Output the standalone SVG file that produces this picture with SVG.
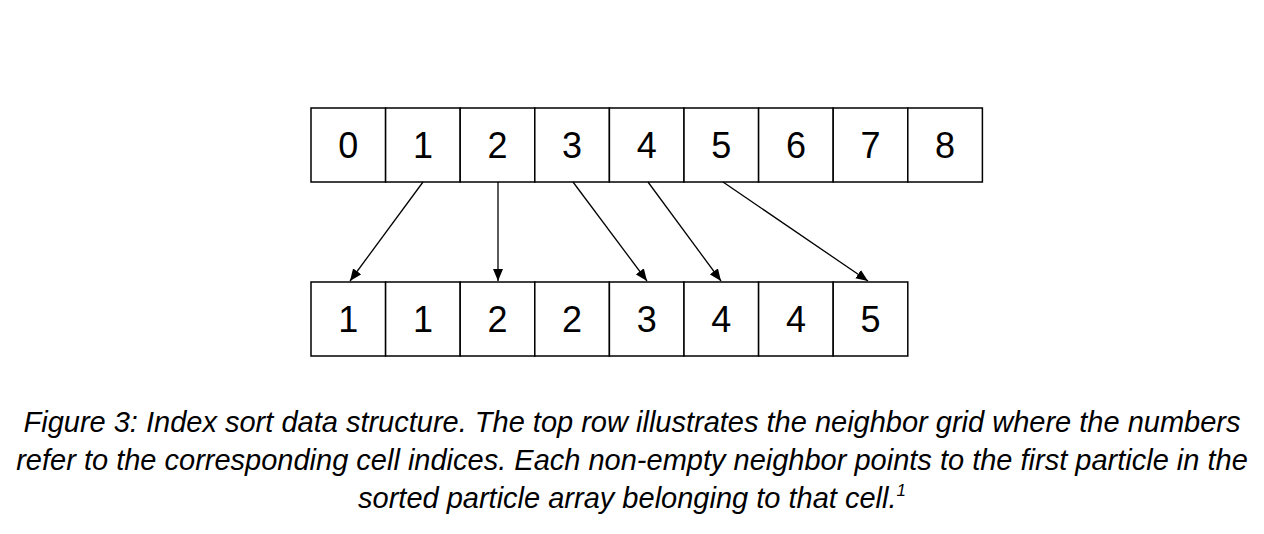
<svg xmlns="http://www.w3.org/2000/svg" width="1264" height="534" viewBox="0 0 1264 534">
<style>
.c{fill:#fff;stroke:#000;stroke-width:1.5}
.d{font-family:"Liberation Sans",Arial,sans-serif;font-size:36px;text-anchor:middle}
.cap{font-family:"Liberation Sans",Arial,sans-serif;font-size:29px;font-style:italic;text-anchor:middle}
.a{stroke:#000;stroke-width:1.3;marker-end:url(#ah)}
</style>
<defs><marker id="ah" markerWidth="12" markerHeight="10" refX="12" refY="5" orient="auto" markerUnits="userSpaceOnUse"><path d="M0,0 L12,5 L0,10 Z" fill="#000"/></marker></defs>
<rect width="1264" height="534" fill="#fff"/>
<g id="top">
<rect class="c" x="311" y="108" width="74.6" height="74"/><text class="d" x="348.3" y="158">0</text>
<rect class="c" x="385.6" y="108" width="74.6" height="74"/><text class="d" x="422.9" y="158">1</text>
<rect class="c" x="460.2" y="108" width="74.6" height="74"/><text class="d" x="497.5" y="158">2</text>
<rect class="c" x="534.8" y="108" width="74.6" height="74"/><text class="d" x="572.1" y="158">3</text>
<rect class="c" x="609.4" y="108" width="74.6" height="74"/><text class="d" x="646.7" y="158">4</text>
<rect class="c" x="684" y="108" width="74.6" height="74"/><text class="d" x="721.3" y="158">5</text>
<rect class="c" x="758.6" y="108" width="74.6" height="74"/><text class="d" x="795.9" y="158">6</text>
<rect class="c" x="833.2" y="108" width="74.6" height="74"/><text class="d" x="870.5" y="158">7</text>
<rect class="c" x="907.8" y="108" width="74.6" height="74"/><text class="d" x="945.1" y="158">8</text>
</g>
<g id="bottom">
<rect class="c" x="311" y="282" width="74.6" height="74"/><text class="d" x="348.3" y="332">1</text>
<rect class="c" x="385.6" y="282" width="74.6" height="74"/><text class="d" x="422.9" y="332">1</text>
<rect class="c" x="460.2" y="282" width="74.6" height="74"/><text class="d" x="497.5" y="332">2</text>
<rect class="c" x="534.8" y="282" width="74.6" height="74"/><text class="d" x="572.1" y="332">2</text>
<rect class="c" x="609.4" y="282" width="74.6" height="74"/><text class="d" x="646.7" y="332">3</text>
<rect class="c" x="684" y="282" width="74.6" height="74"/><text class="d" x="721.3" y="332">4</text>
<rect class="c" x="758.6" y="282" width="74.6" height="74"/><text class="d" x="795.9" y="332">4</text>
<rect class="c" x="833.2" y="282" width="74.6" height="74"/><text class="d" x="870.5" y="332">5</text>
</g>
<g id="connectors">
<line class="a" x1="423" y1="182" x2="350" y2="281"/>
<line class="a" x1="498" y1="182" x2="498" y2="281"/>
<line class="a" x1="573" y1="182" x2="647" y2="281"/>
<line class="a" x1="648" y1="182" x2="721" y2="281"/>
<line class="a" x1="723" y1="182" x2="868" y2="281"/>
</g>
<g id="caption">
<text class="cap" x="632" y="432">Figure 3: Index sort data structure. The top row illustrates the neighbor grid where the numbers</text>
<text class="cap" x="632" y="470">refer to the corresponding cell indices. Each non-empty neighbor points to the first particle in the</text>
<text class="cap" x="632" y="508">sorted particle array belonging to that cell.<tspan font-size="17" dy="-12">1</tspan></text>
</g>
</svg>
